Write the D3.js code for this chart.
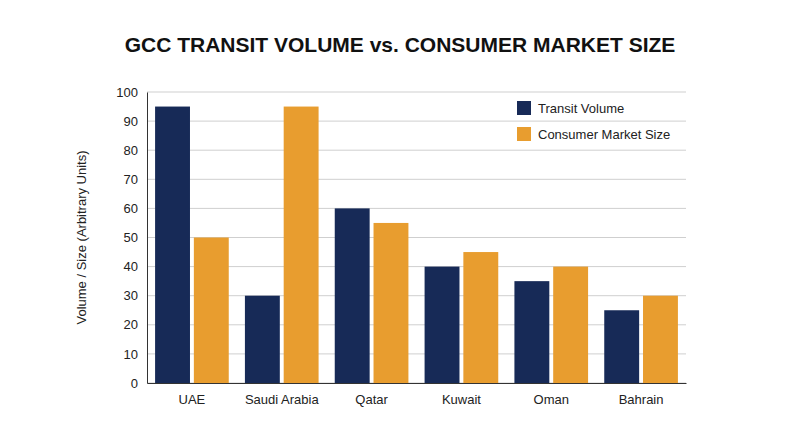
<!DOCTYPE html>
<html>
<head>
<meta charset="utf-8">
<script src="https://cdn.jsdelivr.net/npm/d3@7"></script>
<style>
body { margin: 0; background: #fff; font-family: "Liberation Sans", Arial, sans-serif; }
</style>
</head>
<body>
<svg id="chart" width="800" height="447"></svg>
<script>
// data
var countries = ['UAE', 'Saudi Arabia', 'Qatar', 'Kuwait', 'Oman', 'Bahrain'];
var transitVolume = [95, 30, 60, 40, 35, 25];
var marketSize = [50, 95, 55, 45, 40, 30];
var yTicks = [0, 10, 20, 30, 40, 50, 60, 70, 80, 90, 100];
var seriesNames = ['Transit Volume', 'Consumer Market Size'];
var colors = ['#172a57', '#e89d2f'];

var svg = d3.select('#chart');
var plotLeft = 147, plotRight = 686, plotTop = 92, plotBottom = 383;

var x = d3.scaleBand().domain(countries).range([plotLeft, plotRight]).paddingInner(0.18).paddingOuter(0.09);
var y = d3.scaleLinear().domain([0, 100]).range([plotBottom, plotTop]);

// title
svg.append('text').attr('x', 400).attr('y', 52).attr('text-anchor', 'middle')
  .style('font-size', '21px').style('font-weight', 'bold').style('fill', '#111')
  .text('GCC TRANSIT VOLUME vs. CONSUMER MARKET SIZE');

// grid
svg.append('g').selectAll('line').data(yTicks).enter().append('line')
  .attr('x1', plotLeft).attr('x2', plotRight)
  .attr('y1', function(d) { return y(d); }).attr('y2', function(d) { return y(d); })
  .style('stroke', '#cfcfcf').style('stroke-width', 1);

// y axis
var yAxis = svg.append('g').attr('transform', 'translate(' + plotLeft + ',0)')
  .call(d3.axisLeft(y).tickValues(yTicks).tickSize(0).tickPadding(9));
yAxis.select('.domain').style('stroke', '#333');
yAxis.selectAll('text').style('font-size', '13px').style('fill', '#222')
  .style('font-family', '"Liberation Sans", Arial, sans-serif');

svg.append('text').attr('transform', 'translate(86,' + ((plotTop + plotBottom) / 2) + ') rotate(-90)')
  .attr('text-anchor', 'middle').style('font-size', '13px').style('fill', '#222')
  .text('Volume / Size (Arbitrary Units)');

// bars
var x1 = d3.scaleBand().domain([0, 1]).range([0, x.bandwidth()]).paddingInner(0.1);
var groups = svg.append('g').selectAll('g').data(countries).enter().append('g')
  .attr('transform', function(d) { return 'translate(' + x(d) + ',0)'; });
groups.selectAll('rect').data(function(d, i) { return [transitVolume[i], marketSize[i]]; })
  .enter().append('rect')
  .attr('x', function(d, j) { return x1(j); })
  .attr('width', x1.bandwidth())
  .attr('y', function(d) { return y(d); })
  .attr('height', function(d) { return plotBottom - y(d); })
  .style('fill', function(d, j) { return colors[j]; });

// x axis
var xAxis = svg.append('g').attr('transform', 'translate(0,' + plotBottom + ')')
  .call(d3.axisBottom(x).tickSize(0).tickPadding(12));
xAxis.select('.domain').style('stroke', '#333');
xAxis.selectAll('text').style('font-size', '13px').style('fill', '#222')
  .style('font-family', '"Liberation Sans", Arial, sans-serif');

// legend
var legend = svg.append('g').selectAll('g').data(seriesNames).enter().append('g')
  .attr('transform', function(d, i) { return 'translate(517,' + (101 + i * 26) + ')'; });
legend.append('rect').attr('width', 14).attr('height', 14).style('fill', function(d, i) { return colors[i]; });
legend.append('text').attr('x', 21).attr('y', 12).style('font-size', '13px').style('fill', '#222')
  .text(function(d) { return d; });
</script>
</body>
</html>
